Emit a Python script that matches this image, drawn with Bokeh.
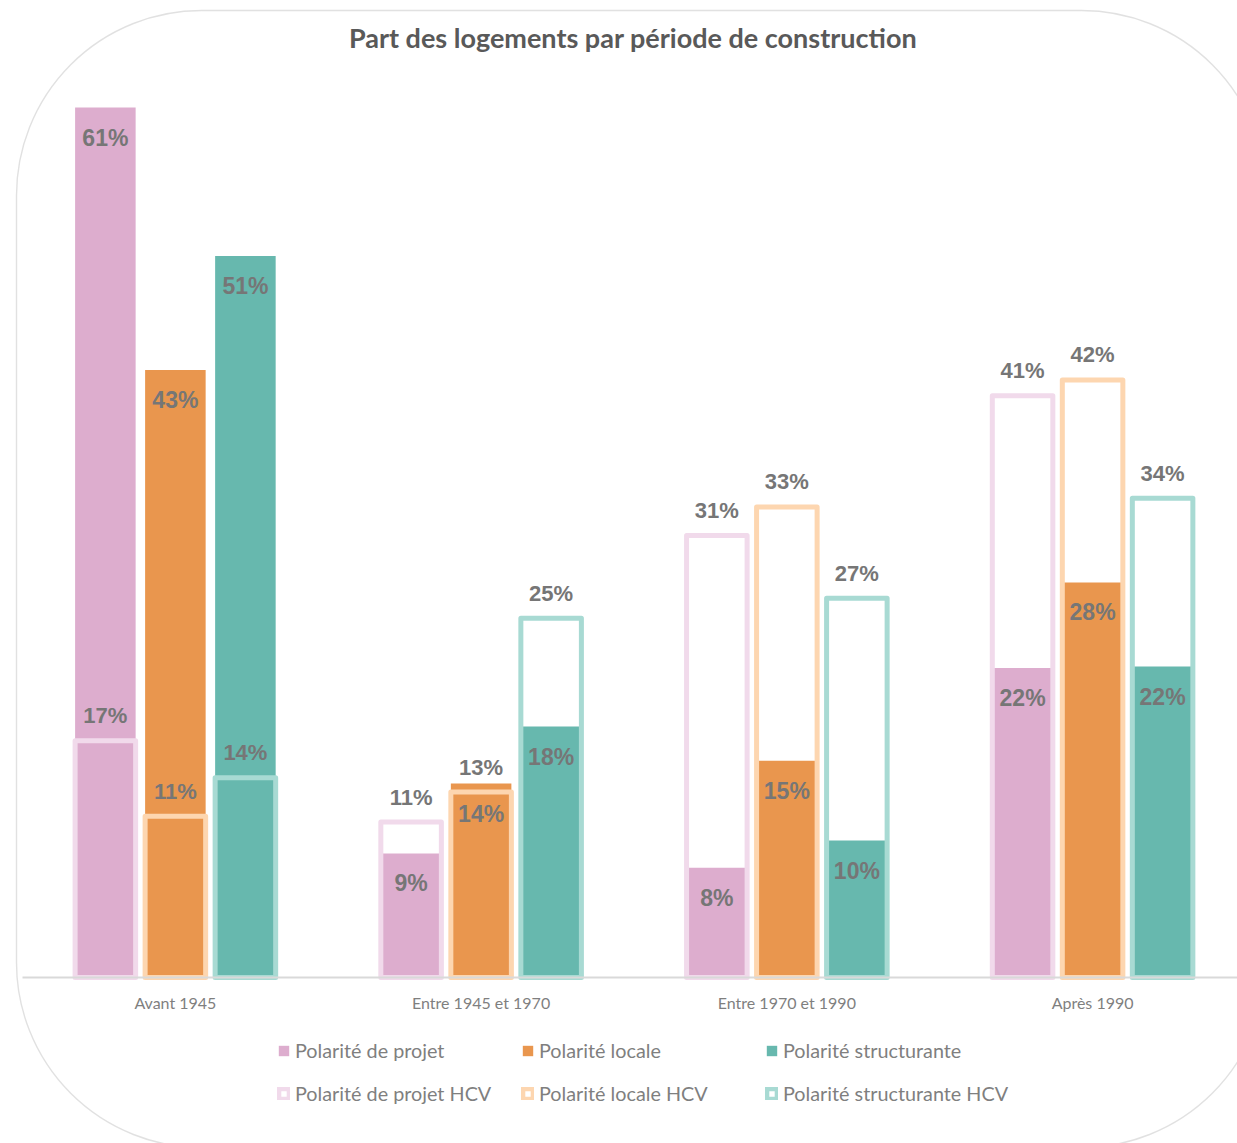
import numpy as np
from bokeh.plotting import figure
from bokeh.models import (ColumnDataSource, Range1d, FixedTicker, Legend, LegendItem,
                          BoxAnnotation, Label)
from bokeh.transform import dodge
from bokeh.core.properties import value
from bokeh.embed import file_html
from bokeh.resources import INLINE

title_text = "Part des logements par période de construction"
categories = ["Avant 1945", "Entre 1945 et 1970", "Entre 1970 et 1990", "Après 1990"]
projet = [61.0, 8.7, 7.7, 21.7]
locale = [42.6, 13.6, 15.2, 27.7]
structurante = [50.6, 17.6, 9.6, 21.8]
projet_hcv = [16.6, 10.9, 31.0, 40.8]
locale_hcv = [11.3, 13.0, 33.0, 41.9]
structurante_hcv = [14.0, 25.2, 26.6, 33.6]

names = ["Polarité de projet", "Polarité locale", "Polarité structurante"]
solid_colors = ["#DDADCE", "#E9964E", "#67B8AE"]
hcv_colors = ["#F1DAEB", "#FDD6B0", "#A8DAD3"]

def pct(vals):
    return [f"{int(round(v))}%" for v in vals]

src = ColumnDataSource(dict(
    x=list(range(len(categories))),
    projet=projet, locale=locale, structurante=structurante,
    projet_hcv=projet_hcv, locale_hcv=locale_hcv, structurante_hcv=structurante_hcv,
    projet_lbl=pct(projet), locale_lbl=pct(locale), structurante_lbl=pct(structurante),
    projet_hcv_lbl=pct(projet_hcv), locale_hcv_lbl=pct(locale_hcv),
    structurante_hcv_lbl=pct(structurante_hcv),
))

W, H = 1237, 1143
p = figure(width=W, height=H, output_backend="svg", toolbar_location=None,
           x_range=Range1d(-0.572, 3.474), y_range=Range1d(-11.64, 68.51),
           y_axis_location=None,
           min_border_left=0, min_border_right=0, min_border_top=0, min_border_bottom=0)

p.outline_line_color = None
p.xgrid.visible = False
p.ygrid.visible = False
p.background_fill_color = "white"
p.border_fill_color = "white"

border = BoxAnnotation(left=16, right=1266, top=10, bottom=1147,
                       left_units="canvas", right_units="canvas",
                       top_units="canvas", bottom_units="canvas",
                       fill_alpha=0, line_color="#9c9c9c", line_width=1.4,
                       border_radius=185, level="underlay")
p.add_layout(border)

title = Label(x=1.497, y=65.92, text=title_text, text_align="center",
              text_baseline="middle", text_font="Lato", text_font_size="27px",
              text_font_style="bold", text_color="#595959")
p.add_layout(title)

keys = ["projet", "locale", "structurante"]
offsets = [-0.229, 0.0, 0.229]
bw = 0.198

solid_r = []
for k, off, c in zip(keys, offsets, solid_colors):
    r = p.vbar(x=dodge("x", off, range=p.x_range), top=k, width=bw, bottom=0,
               source=src, fill_color=c, line_color=None)
    solid_r.append(r)

hcv_r = []
for k, off, c in zip(keys, offsets, hcv_colors):
    r = p.vbar(x=dodge("x", off, range=p.x_range), top=k + "_hcv", width=bw, bottom=0,
               source=src, fill_alpha=0, line_color=c, line_width=5, line_join="round")
    hcv_r.append(r)

for k, off in zip(keys, offsets):
    p.text(x=dodge("x", off, range=p.x_range), y=k, text=k + "_lbl", source=src,
           text_align="center", text_baseline="middle", y_offset=30,
           text_font=value("Liberation Sans"), text_font_style="bold",
           text_font_size="23px", text_color="#767676")
    p.text(x=dodge("x", off, range=p.x_range), y=k + "_hcv", text=k + "_hcv_lbl", source=src,
           text_align="center", text_baseline="middle", y_offset=-25,
           text_font=value("Liberation Sans"), text_font_style="bold",
           text_font_size="22px", text_color="#767676")

ax = p.xaxis[0]
ax.fixed_location = 0
ax.bounds = (-0.5, 3.6)
ax.ticker = FixedTicker(ticks=list(range(len(categories))))
ax.major_label_overrides = {i: c for i, c in enumerate(categories)}
ax.major_tick_line_color = None
ax.major_tick_out = 0
ax.major_tick_in = 0
ax.minor_tick_line_color = None
ax.axis_line_color = "#d9d9d9"
ax.axis_line_width = 2
ax.major_label_standoff = 15
ax.major_label_text_font = "Lato"
ax.major_label_text_font_size = "16px"
ax.major_label_text_color = "#7f7f7f"

def make_legend(items, loc):
    leg = Legend(items=items, orientation="horizontal", location=loc,
                 glyph_width=13, glyph_height=13, label_standoff=5,
                 label_width=226, label_height=20, spacing=0, padding=0, margin=0,
                 border_line_color=None, background_fill_alpha=0,
                 label_text_font="Lato", label_text_font_size="19.8px",
                 label_text_color="#7f7f7f")
    return leg

leg1 = make_legend([LegendItem(label=n, renderers=[r]) for n, r in zip(names, solid_r)], (277, 81))
leg2 = make_legend([LegendItem(label=n + " HCV", renderers=[r]) for n, r in zip(names, hcv_r)], (277, 38))
p.add_layout(leg1)
p.add_layout(leg2)

open("out.html", "w").write(file_html(p, INLINE))
